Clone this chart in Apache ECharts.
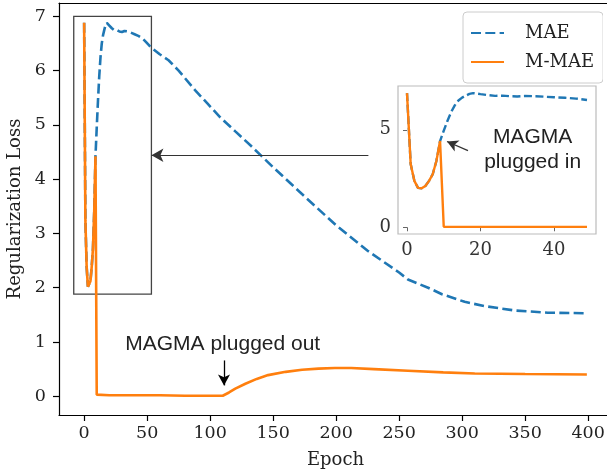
<!DOCTYPE html>
<html>
<head>
<meta charset="utf-8">
<script src="https://cdn.jsdelivr.net/npm/echarts@6/dist/echarts.min.js"></script>
<style>
  html, body { margin: 0; padding: 0; background: #fff; overflow: hidden; }
  #chart { width: 607px; height: 471px; }
</style>
</head>
<body>
<div id="chart"></div>
<script>
// values
const maeEpoch = [0,1,2,3,4,5,6,7,8,9,10,11,12,13,14,15,16,17,18,19,20,22,24,26,28,30,32,35,38,40,43,46,49,53,60,67,75,88,98,108,120,133,150,175,200,225,250,257,273,284,302,318,342,368,399];
const maeLoss  = [6.88,3.24,2.38,2.02,2.0,2.12,2.38,2.72,3.4,4.42,4.95,5.45,5.9,6.25,6.5,6.65,6.75,6.84,6.88,6.86,6.83,6.78,6.74,6.75,6.72,6.71,6.73,6.72,6.69,6.67,6.64,6.6,6.53,6.43,6.3,6.19,6.0,5.64,5.39,5.14,4.88,4.6,4.22,3.68,3.15,2.68,2.28,2.15,2.0,1.88,1.74,1.66,1.58,1.54,1.53];

const mmaeEpoch = [0,1,2,3,4,5,6,7,8,9,10,20,30,40,49,60,80,100,110,115,120,128,137,146,160,173,186,199,212,230,257,285,310,350,399];
const mmaeLoss  = [6.88,3.24,2.38,2.02,2.0,2.12,2.38,2.72,3.4,4.42,0.03,0.02,0.02,0.02,0.02,0.02,0.01,0.01,0.01,0.07,0.14,0.23,0.32,0.39,0.45,0.49,0.51,0.52,0.52,0.5,0.47,0.44,0.42,0.41,0.4];

const xTicks = [0,50,100,150,200,250,300,350,400];
const yTicks = [0,1,2,3,4,5,6,7];
const insetXTicks = [0,20,40];
const insetYTicks = [0,5];
const insetLastEpoch = 49;

function pairs(xs, ys, maxX) {
    let out = [];
    for (let i = 0; i < xs.length; i++) {
        if (maxX === undefined || xs[i] <= maxX) out.push([xs[i], ys[i]]);
    }
    return out;
}

function spine() {
    return {show: true, onZero: false, lineStyle: {color: '#000', width: 1.2}};
}

const SERIF = 'DejaVu Serif';
const SANS = 'Liberation Sans';
const blue = '#1f77b4';
const orange = '#ff7f0e';

let chart = echarts.init(document.getElementById('chart'), null, {renderer: 'canvas'});

let option = {
    animation: false,
    legend: {
        data: ['MAE', 'M-MAE'],
        orient: 'vertical',
        left: 463,
        top: 12,
        itemWidth: 33,
        itemHeight: 14,
        itemGap: 11,
        padding: [12, 9, 12, 7],
        borderColor: '#ccc',
        borderWidth: 1,
        borderRadius: 4,
        backgroundColor: 'rgba(255,255,255,0.8)',
        itemStyle: {opacity: 0},
        textStyle: {fontFamily: SERIF, fontSize: 18, color: '#222', padding: [0, 0, 0, 16]}
    },
    // the main axes run a little past the right edge of the picture, so no right spine is seen
    graphic: [{
        type: 'rect', right: 0, top: 5, silent: true, z: 1000, zlevel: 5,
        shape: {x: 0, y: 0, width: 4, height: 408},
        style: {fill: '#fff'}
    }],
    grid: [
        {left: 59, top: 3, width: 553, height: 412, outerBoundsMode: 'none', containLabel: false, show: false},
        {left: 398, top: 86, width: 198, height: 148, outerBoundsMode: 'none', containLabel: false,
         show: true, borderColor: '#bbb', borderWidth: 1.2, backgroundColor: '#fff'}
    ],
    xAxis: [
        {
            gridIndex: 0, type: 'value', min: -19.95, max: 418.95,
            name: 'Epoch', nameLocation: 'middle', nameGap: 36,
            nameTextStyle: {fontFamily: SERIF, fontSize: 18, color: '#222'},
            axisLine: spine(),
            splitLine: {show: false},
            axisTick: {show: true, length: 6, lineStyle: {color: '#000', width: 1.2}, customValues: xTicks},
            axisLabel: {fontFamily: SERIF, fontSize: 17.5, color: '#222', margin: 9, customValues: xTicks}
        },
        {
            gridIndex: 1, type: 'value', min: -2.45, max: 51.45,
            axisLine: {show: false},
            splitLine: {show: false},
            axisTick: {show: true, length: 4, lineStyle: {color: '#666'}, customValues: insetXTicks},
            axisLabel: {fontFamily: SERIF, fontSize: 18, color: '#333', margin: 7, customValues: insetXTicks}
        },
        {
            // top spine only
            gridIndex: 0, type: 'value', position: 'top', min: -19.95, max: 418.95,
            axisLine: spine(),
            axisTick: {show: false}, axisLabel: {show: false}, splitLine: {show: false}
        }
    ],
    yAxis: [
        {
            gridIndex: 0, type: 'value', min: -0.345, max: 7.245,
            name: 'Regularization Loss', nameLocation: 'middle', nameGap: 31,
            nameTextStyle: {fontFamily: SERIF, fontSize: 18, color: '#222'},
            axisLine: spine(),
            splitLine: {show: false},
            axisTick: {show: true, length: 6, lineStyle: {color: '#000', width: 1.2}, customValues: yTicks},
            axisLabel: {fontFamily: SERIF, fontSize: 17.5, color: '#222', margin: 13, customValues: yTicks}
        },
        {
            gridIndex: 1, type: 'value', min: -0.345, max: 7.245,
            axisLine: {show: false},
            splitLine: {show: false},
            axisTick: {show: true, length: 4, lineStyle: {color: '#666'}, customValues: insetYTicks},
            axisLabel: {fontFamily: SERIF, fontSize: 18, color: '#333', margin: 7, customValues: insetYTicks}
        }
    ],
    series: [
        {
            name: 'MAE', type: 'line', xAxisIndex: 0, yAxisIndex: 0,
            data: pairs(maeEpoch, maeLoss),
            symbol: 'none', z: 2,
            lineStyle: {color: blue, width: 2.6, type: [10, 4.3]},
            itemStyle: {color: blue},
            // zoom box + arrow pointing at it
            markArea: {
                silent: true,
                itemStyle: {color: 'rgba(0,0,0,0)', borderColor: '#444', borderWidth: 1.3},
                data: [[{coord: [-8.25, 7.0]}, {coord: [53.4, 1.88]}]]
            },
            markLine: {
                silent: true, animation: false,
                symbol: ['none', 'arrow'], symbolSize: [10, 12],
                label: {show: false},
                lineStyle: {color: '#333', width: 1.2, type: 'solid'},
                data: [[{coord: [225.6, 4.44]}, {coord: [53.4, 4.44]}]]
            }
        },
        {
            name: 'M-MAE', type: 'line', xAxisIndex: 0, yAxisIndex: 0,
            data: pairs(mmaeEpoch, mmaeLoss),
            symbol: 'none', z: 3,
            lineStyle: {color: orange, width: 2.6},
            itemStyle: {color: orange},
            markPoint: {
                silent: true,
                symbol: 'circle', symbolSize: 1,
                itemStyle: {color: 'rgba(0,0,0,0)'},
                label: {show: true, position: 'inside', fontFamily: SANS, fontSize: 21, color: '#222'},
                data: [{coord: [110, 0.96], value: 'MAGMA plugged out', label: {formatter: 'MAGMA plugged out'}}]
            },
            markLine: {
                silent: true, animation: false,
                symbol: ['none', 'arrow'], symbolSize: [9, 11],
                label: {show: false},
                lineStyle: {color: '#000', width: 1.3, type: 'solid'},
                data: [[{coord: [111, 0.66]}, {coord: [111, 0.2]}]]
            }
        },
        // inset
        {
            name: 'MAE', type: 'line', xAxisIndex: 1, yAxisIndex: 1,
            data: pairs(maeEpoch, maeLoss, insetLastEpoch),
            symbol: 'none', z: 4,
            lineStyle: {color: blue, width: 2.4, type: [8, 3.5]},
            itemStyle: {color: blue}
        },
        {
            name: 'M-MAE', type: 'line', xAxisIndex: 1, yAxisIndex: 1,
            data: pairs(mmaeEpoch, mmaeLoss, insetLastEpoch),
            symbol: 'none', z: 5,
            lineStyle: {color: orange, width: 2.4},
            itemStyle: {color: orange},
            markPoint: {
                silent: true,
                symbol: 'circle', symbolSize: 1,
                itemStyle: {color: 'rgba(0,0,0,0)'},
                label: {show: true, position: 'inside', fontFamily: SANS, fontSize: 21, color: '#222', lineHeight: 25, align: 'center'},
                data: [{coord: [34.2, 3.97], value: 'in', label: {formatter: 'MAGMA\nplugged in'}}]
            },
            markLine: {
                silent: true, animation: false,
                symbol: ['none', 'arrow'], symbolSize: [9, 11],
                label: {show: false},
                lineStyle: {color: '#333', width: 1.3, type: 'solid'},
                data: [[{coord: [16.6, 3.93]}, {coord: [10.9, 4.4]}]]
            }
        }
    ]
};

chart.setOption(option);
</script>
</body>
</html>
